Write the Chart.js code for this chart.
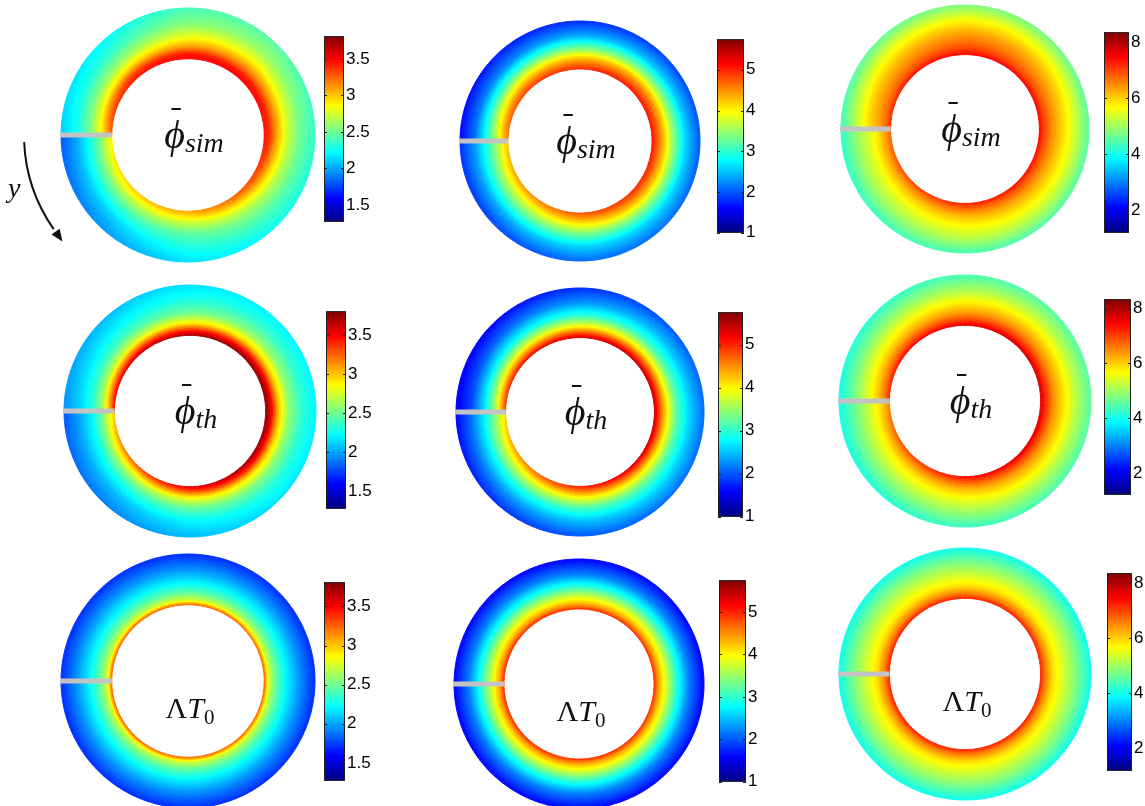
<!DOCTYPE html>
<html lang="en">
<head>
    <meta charset="UTF-8">
    <title>Concentration maps</title>
    <script src="https://cdn.jsdelivr.net/npm/chart.js@4.4.1/dist/chart.umd.min.js"></script>
    <style>
        * { margin: 0; padding: 0; box-sizing: border-box; }
        body {
            background: #fff;
            width: 1145px;
            height: 806px;
            overflow: hidden;
            position: relative;
        }
        canvas { position: absolute; }
    </style>
</head>
<body>
<script>
    // y stations (degrees, counter-clockwise from the slit) and radial positions (0 = inner wall, 1 = outer wall)
    const yStations = [0, 45, 90, 135, 180, 225, 270, 315, 360];
    const radialPos = [0, 0.1, 0.25, 0.45, 0.7, 1];

    // simulated concentration, one row per y station
    const phiSimA = [
        [2.9, 2.75, 2.5, 2.25, 2.0, 1.8],
        [3.0, 2.85, 2.6, 2.35, 2.1, 1.95],
        [3.1, 2.95, 2.7, 2.45, 2.3, 2.15],
        [3.3, 3.15, 2.85, 2.6, 2.4, 2.25],
        [3.45, 3.4, 3.1, 2.75, 2.5, 2.35],
        [3.5, 3.45, 3.15, 2.85, 2.6, 2.45],
        [3.5, 3.45, 3.1, 2.8, 2.55, 2.4],
        [3.45, 3.35, 2.95, 2.6, 2.35, 2.2],
        [3.3, 3.1, 2.8, 2.5, 2.25, 2.1]
    ];
    const phiSimB = [
        [4.3, 4.0, 3.5, 2.9, 2.3, 1.8],
        [4.5, 4.2, 3.7, 3.1, 2.4, 1.9],
        [4.8, 4.5, 4.0, 3.3, 2.6, 2.1],
        [5.0, 4.7, 4.2, 3.4, 2.6, 2.1],
        [5.1, 4.8, 4.3, 3.45, 2.6, 2.0],
        [5.1, 4.8, 4.3, 3.4, 2.5, 1.9],
        [5.0, 4.7, 4.2, 3.3, 2.4, 1.8],
        [4.9, 4.6, 4.0, 3.1, 2.2, 1.7],
        [4.6, 4.3, 3.7, 2.9, 2.1, 1.6]
    ];
    const phiSimC = [
        [6.8, 6.4, 5.9, 5.4, 4.9, 4.2],
        [7.0, 6.5, 6.0, 5.5, 5.0, 4.3],
        [7.3, 6.8, 6.2, 5.7, 5.2, 4.4],
        [7.4, 6.9, 6.4, 5.9, 5.3, 4.5],
        [7.5, 7.0, 6.5, 6.0, 5.4, 4.5],
        [7.5, 7.0, 6.6, 6.2, 5.6, 4.7],
        [7.5, 7.1, 6.7, 6.3, 5.7, 4.8],
        [7.4, 6.9, 6.5, 6.1, 5.5, 4.6],
        [7.2, 6.7, 6.3, 5.9, 5.2, 4.3]
    ];

    // theory
    const phiThA = [
        [3.0, 2.8, 2.5, 2.2, 2.0, 1.8],
        [3.3, 3.0, 2.6, 2.3, 2.05, 1.9],
        [3.6, 3.3, 2.8, 2.45, 2.2, 2.05],
        [3.75, 3.5, 2.95, 2.55, 2.3, 2.15],
        [3.8, 3.6, 3.05, 2.6, 2.35, 2.2],
        [3.8, 3.55, 3.0, 2.6, 2.35, 2.2],
        [3.75, 3.45, 2.9, 2.5, 2.3, 2.15],
        [3.65, 3.3, 2.75, 2.4, 2.2, 2.05],
        [3.5, 3.1, 2.6, 2.3, 2.1, 1.95]
    ];
    const phiThB = [
        [4.2, 3.8, 3.3, 2.7, 2.1, 1.6],
        [4.6, 4.2, 3.6, 2.9, 2.3, 1.8],
        [5.1, 4.6, 3.9, 3.1, 2.5, 2.0],
        [5.4, 4.8, 4.0, 3.2, 2.6, 2.1],
        [5.5, 4.9, 4.1, 3.2, 2.6, 2.1],
        [5.5, 4.9, 4.0, 3.1, 2.5, 2.0],
        [5.4, 4.8, 3.9, 3.0, 2.3, 1.8],
        [5.2, 4.6, 3.7, 2.8, 2.1, 1.6],
        [4.9, 4.3, 3.4, 2.6, 1.9, 1.5]
    ];
    const phiThC = [
        [6.6, 6.2, 5.7, 5.2, 4.6, 4.0],
        [7.0, 6.5, 5.9, 5.4, 4.8, 4.1],
        [7.5, 6.9, 6.2, 5.6, 5.0, 4.3],
        [7.7, 7.1, 6.4, 5.8, 5.1, 4.4],
        [7.8, 7.2, 6.5, 5.9, 5.2, 4.5],
        [7.8, 7.2, 6.5, 5.9, 5.2, 4.5],
        [7.7, 7.1, 6.4, 5.8, 5.1, 4.4],
        [7.5, 6.9, 6.2, 5.6, 4.9, 4.2],
        [7.2, 6.6, 6.0, 5.4, 4.7, 4.0]
    ];

    // Lambda T0, radial only
    const lambdaT0A = [3.3, 2.75, 2.45, 2.2, 1.95, 1.7];
    const lambdaT0B = [5.0, 4.4, 3.8, 3.0, 2.2, 1.6];
    const lambdaT0C = [7.3, 6.6, 5.9, 5.4, 4.8, 4.0];

    // colour limits and colorbar ticks per column
    const climA = [1.27, 3.81];
    const climB = [1, 5.75];
    const climC = [1.2, 8.35];
    const ticksA = [1.5, 2, 2.5, 3, 3.5];
    const ticksB = [1, 2, 3, 4, 5];
    const ticksC = [2, 4, 6, 8];

    const RINGS = 32;
    const SEGS = 96;
    const serif = "'Liberation Serif', 'DejaVu Serif', serif";

    const panels = [
        { cx: 188, cy: 135, R: 127, grid: phiSimA, clim: climA, label: 'sim', arrow: true },
        { cx: 580, cy: 141, R: 120, grid: phiSimB, clim: climB, label: 'sim' },
        { cx: 965, cy: 129, R: 124, grid: phiSimC, clim: climC, label: 'sim' },
        { cx: 190, cy: 411, R: 126, grid: phiThA, clim: climA, label: 'th' },
        { cx: 580, cy: 412, R: 124, grid: phiThB, clim: climB, label: 'th' },
        { cx: 965, cy: 401, R: 126, grid: phiThC, clim: climC, label: 'th' },
        { cx: 188, cy: 681, R: 127, grid: lambdaT0A, clim: climA, label: 'T0' },
        { cx: 579, cy: 684, R: 125, grid: lambdaT0B, clim: climB, label: 'T0' },
        { cx: 965, cy: 674, R: 126, grid: lambdaT0C, clim: climC, label: 'T0' }
    ];

    const bars = [
        { x: 324, y0: 36, y1: 222, w: 20, clim: climA, ticks: ticksA },
        { x: 717, y0: 39, y1: 233, w: 27, clim: climB, ticks: ticksB },
        { x: 1104, y0: 32, y1: 233, w: 25, clim: climC, ticks: ticksC },
        { x: 326, y0: 311, y1: 509, w: 20, clim: climA, ticks: ticksA },
        { x: 718, y0: 312, y1: 517, w: 25, clim: climB, ticks: ticksB },
        { x: 1104, y0: 299, y1: 495, w: 27, clim: climC, ticks: ticksC },
        { x: 324, y0: 582, y1: 781, w: 21, clim: climA, ticks: ticksA },
        { x: 719, y0: 580, y1: 782, w: 27, clim: climB, ticks: ticksB },
        { x: 1107, y0: 573, y1: 771, w: 25, clim: climC, ticks: ticksC }
    ];

    // matlab jet
    function jet(t) {
        t = Math.min(1, Math.max(0, t));
        const c = v => Math.round(255 * Math.min(1, Math.max(0, v)));
        return `rgb(${c(1.5 - Math.abs(4 * t - 3))},${c(1.5 - Math.abs(4 * t - 2))},${c(1.5 - Math.abs(4 * t - 1))})`;
    }

    function interp1(xs, ys, x) {
        let k = 0;
        while (k < xs.length - 2 && x > xs[k + 1]) k++;
        const f = (x - xs[k]) / (xs[k + 1] - xs[k]);
        return ys[k] * (1 - f) + ys[k + 1] * f;
    }

    // shading between the read stations (like matlab "shading interp")
    function fieldAt(grid, s, xi) {
        if (!Array.isArray(grid[0])) return interp1(radialPos, grid, xi);
        const col = grid.map(row => interp1(radialPos, row, xi));
        return interp1(yStations, col, s);
    }

    function ringDatasets(p) {
        const sets = [];
        for (let i = 0; i < RINGS; i++) {
            const xi = 1 - (i + 0.5) / RINGS; // dataset 0 is the outer ring
            const colors = [];
            for (let j = 0; j < SEGS; j++) {
                const s = 360 - (j + 0.5) * 360 / SEGS; // segments run clockwise from the slit
                const v = fieldAt(p.grid, s, xi);
                colors.push(jet((v - p.clim[0]) / (p.clim[1] - p.clim[0])));
            }
            sets.push({
                data: new Array(SEGS).fill(1),
                backgroundColor: colors,
                borderColor: colors,
                borderWidth: 1,
                hoverBorderWidth: 1,
                hoverOffset: 0,
                offset: 0
            });
        }
        return sets;
    }

    function drawLabel(ctx, p, x, y) {
        ctx.save();
        ctx.fillStyle = '#111';
        ctx.textBaseline = 'alphabetic';
        ctx.textAlign = 'left';
        if (p.label === 'T0') {
            const parts = [
                { t: '\u039B', f: `30px ${serif}`, dy: 0 },
                { t: 'T', f: `italic 30px ${serif}`, dy: 0 },
                { t: '0', f: `21px ${serif}`, dy: 6 }
            ];
            let w = 0;
            parts.forEach(q => { ctx.font = q.f; w += ctx.measureText(q.t).width; });
            let px = x + 2 - w / 2;
            const by = y + 37;
            parts.forEach(q => { ctx.font = q.f; ctx.fillText(q.t, px, by + q.dy); px += ctx.measureText(q.t).width; });
        } else {
            ctx.font = `italic 40px ${serif}`;
            const wPhi = ctx.measureText('\u03D5').width;
            ctx.font = `italic 28px ${serif}`;
            const wSub = ctx.measureText(p.label).width;
            const px = x + 6 - (wPhi + wSub) / 2;
            const by = y + 13;
            ctx.font = `italic 40px ${serif}`;
            ctx.fillText('\u03D5', px, by);
            ctx.fillRect(px + wPhi * 0.35, by - 40, wPhi * 0.45, 2);
            ctx.font = `italic 28px ${serif}`;
            ctx.fillText(p.label, px + wPhi, by + 4);
        }
        ctx.restore();
    }

    const ringDecor = {
        id: 'ringDecor',
        afterDraw(chart, args, opts) {
            const p = opts.panel;
            const ctx = chart.ctx;
            const outer = chart.getDatasetMeta(0).data[0];
            const inner = chart.getDatasetMeta(RINGS - 1).data[0];
            const x = outer.x, y = outer.y;
            // slit
            ctx.fillStyle = '#c3c3c3';
            ctx.fillRect(x - outer.outerRadius - 1, y - 2.5, outer.outerRadius - inner.innerRadius + 1, 5);
            drawLabel(ctx, p, x, y);
            if (p.arrow) {
                const r = 164, a0 = 177.5 * Math.PI / 180, a1 = 145 * Math.PI / 180;
                ctx.save();
                ctx.strokeStyle = '#111';
                ctx.fillStyle = '#111';
                ctx.lineWidth = 2;
                ctx.beginPath();
                ctx.arc(x, y, r, a0, a1, true);
                ctx.stroke();
                const ex = x + r * Math.cos(a1 - 0.02), ey = y + r * Math.sin(a1 - 0.02);
                const tx = Math.sin(a1), ty = -Math.cos(a1);
                ctx.beginPath();
                ctx.moveTo(ex + tx * 12, ey + ty * 12);
                ctx.lineTo(ex - ty * 5, ey + tx * 5);
                ctx.lineTo(ex + ty * 5, ey - tx * 5);
                ctx.closePath();
                ctx.fill();
                ctx.font = `italic 28px ${serif}`;
                ctx.fillText('y', x - 180, y + 62);
                ctx.restore();
            }
        }
    };

    panels.forEach(p => {
        const pad = p.arrow ? 64 : 6;
        const size = 2 * (p.R + pad);
        const cv = document.createElement('canvas');
        cv.width = size;
        cv.height = size;
        cv.style.left = (p.cx - p.R - pad) + 'px';
        cv.style.top = (p.cy - p.R - pad) + 'px';
        document.body.appendChild(cv);
        new Chart(cv, {
            type: 'doughnut',
            data: { labels: new Array(SEGS).fill(''), datasets: ringDatasets(p) },
            options: {
                responsive: false,
                animation: false,
                events: [],
                radius: p.R,
                cutout: '60%',
                rotation: 270,
                layout: { padding: 0 },
                plugins: { legend: { display: false }, tooltip: { enabled: false }, ringDecor: { panel: p } }
            },
            plugins: [ringDecor]
        });
    });

    const barFrame = {
        id: 'barFrame',
        afterDraw(chart) {
            const ctx = chart.ctx;
            const a = chart.chartArea;
            const sc = chart.scales.y;
            ctx.save();
            ctx.strokeStyle = '#222';
            ctx.lineWidth = 1;
            ctx.strokeRect(a.left + 0.5, a.top + 0.5, a.right - a.left - 1, a.bottom - a.top - 1);
            ctx.beginPath();
            sc.ticks.forEach(t => {
                const ty = Math.round(sc.getPixelForValue(t.value)) + 0.5;
                ctx.moveTo(a.left, ty); ctx.lineTo(a.left + 3, ty);
                ctx.moveTo(a.right, ty); ctx.lineTo(a.right - 3, ty);
            });
            ctx.stroke();
            ctx.restore();
        }
    };

    bars.forEach(b => {
        const padV = 12, axisW = 34;
        const cv = document.createElement('canvas');
        cv.width = b.w + axisW;
        cv.height = b.y1 - b.y0 + 2 * padV;
        cv.style.left = b.x + 'px';
        cv.style.top = (b.y0 - padV) + 'px';
        cv.style.zIndex = 2;
        document.body.appendChild(cv);
        new Chart(cv, {
            type: 'bar',
            data: {
                labels: [''],
                datasets: [{
                    data: [b.clim],
                    borderWidth: 0,
                    categoryPercentage: 1,
                    barPercentage: 1,
                    backgroundColor: ctx => {
                        const area = ctx.chart.chartArea;
                        if (!area) return '#888';
                        const g = ctx.chart.ctx.createLinearGradient(0, area.bottom, 0, area.top);
                        for (let k = 0; k <= 16; k++) g.addColorStop(k / 16, jet(k / 16));
                        return g;
                    }
                }]
            },
            options: {
                responsive: false,
                animation: false,
                events: [],
                layout: { padding: { top: padV, bottom: padV, left: 0, right: 0 } },
                plugins: { legend: { display: false }, tooltip: { enabled: false } },
                scales: {
                    x: { display: false },
                    y: {
                        position: 'right',
                        min: b.clim[0],
                        max: b.clim[1],
                        afterBuildTicks: sc => { sc.ticks = b.ticks.map(v => ({ value: v })); },
                        afterFit: sc => { sc.width = axisW; },
                        grid: { display: false, drawTicks: false },
                        border: { display: false },
                        ticks: {
                            padding: 2,
                            color: '#000',
                            callback: v => String(v),
                            font: { family: "'Liberation Sans', Arial, sans-serif", size: 17 }
                        }
                    }
                }
            },
            plugins: [barFrame]
        });
    });
</script>
</body>
</html>
